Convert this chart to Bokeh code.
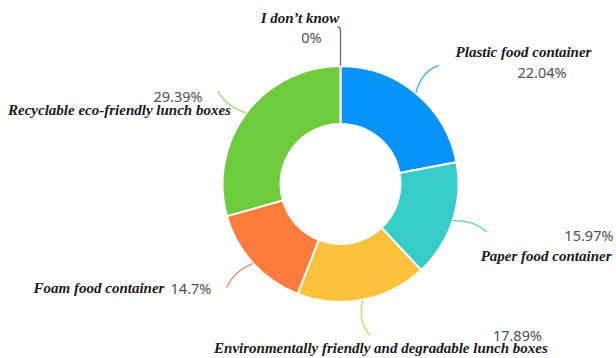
import math
from bokeh.plotting import figure
from bokeh.models import Range1d, ColumnDataSource
from bokeh.core.properties import value
from bokeh.embed import file_html
from bokeh.resources import INLINE

# ---- data ----
categories = ["Plastic food container", "Paper food container",
              "Environmentally friendly and degradable lunch boxes",
              "Foam food container", "Recyclable eco-friendly lunch boxes",
              "I don\u2019t know"]
percents = [22.04, 15.97, 17.89, 14.7, 29.39, 0.0]
value_labels = ["22.04%", "15.97%", "17.89%", "14.7%", "29.39%", "0%"]

# ---- styles / layout ----
slice_colors = ["#0893FB", "#36CCC8", "#FDC13B", "#FE7B3E", "#6DCB3C", "#888888"]
leader_colors = ["#4AA6EA", "#5ED2CE", "#F3C85E", "#EE8E63", "#A3DA86", "#6E6E6E"]
W, H = 616, 358
CX, CY = 340, 174.5          # centre (data units == pixels)
R_OUT, R_IN = 118, 60
R_END = 154
# label offsets from leader end (screen px: dx right, dy down)
name_dx = [84.7, 124.6, 11.2, -62.1, -98.2, -40.5]
name_dy = [-13, 23.7, 13.3, 0.9, 18.5, -12.5]
name_align = ["center", "right", "center", "right", "center", "center"]
val_dx = [103.2, 126.6, 147.7, -35.6, -39.7, -29]
val_dy = [7, 2.7, 0.3, 0.9, 4.5, 6.5]
val_align = ["center", "right", "center", "center", "center", "center"]
bend = [4, 3, -4, -3, 3, 0]

p = figure(width=W, height=H, output_backend="svg", toolbar_location=None,
           x_range=Range1d(0, W), y_range=Range1d(0, H), min_border=0)
p.axis.visible = False
p.grid.visible = False
p.outline_line_color = None
p.background_fill_color = "white"

total = sum(percents)
starts, ends, mids = [], [], []
cum = 0.0
for v in percents:
    a0 = math.pi / 2 - 2 * math.pi * (cum + v) / total
    a1 = math.pi / 2 - 2 * math.pi * cum / total
    starts.append(a0)
    ends.append(a1)
    mids.append((a0 + a1) / 2)
    cum += v

idx = [i for i, v in enumerate(percents) if v > 0]
src = ColumnDataSource(dict(
    start=[starts[i] for i in idx], end=[ends[i] for i in idx],
    color=[slice_colors[i] for i in idx]))
p.annular_wedge(x=CX, y=CY, inner_radius=R_IN, outer_radius=R_OUT,
                start_angle="start", end_angle="end", fill_color="color",
                line_color="white", line_width=2, source=src)

# leader lines
x0s, y0s, x1s, y1s, cxs, cys = [], [], [], [], [], []
ex, ey = [], []
for i, m in enumerate(mids):
    sx, sy = CX + R_OUT * math.cos(m), CY + R_OUT * math.sin(m)
    tx, ty = CX + R_END * math.cos(m), CY + R_END * math.sin(m)
    mb = m + math.radians(bend[i])
    kx, ky = CX + (R_OUT + 20) * math.cos(mb), CY + (R_OUT + 20) * math.sin(mb)
    x0s.append(sx); y0s.append(sy); x1s.append(tx); y1s.append(ty)
    cxs.append(kx); cys.append(ky)
    ex.append(tx); ey.append(ty)
p.quadratic(x0=x0s, y0=y0s, x1=x1s, y1=y1s, cx=cxs, cy=cys,
            line_color=leader_colors, line_width=1.3)

# small hook on the "I don't know" leader
k = len(mids) - 1
p.quadratic(x0=[ex[k]], y0=[ey[k]], x1=[ex[k] - 3], y1=[ey[k] + 3],
            cx=[ex[k]], cy=[ey[k] + 3], line_color=leader_colors[k], line_width=1.3)

# labels
for i in range(len(categories)):
    p.text(x=[ex[i] + name_dx[i]], y=[ey[i] - name_dy[i]], text=[categories[i]],
           text_font=value("Liberation Serif"), text_font_style="bold italic",
           text_font_size="15px", text_color="#1a1a1a",
           text_align=name_align[i], text_baseline="middle")
    p.text(x=[ex[i] + val_dx[i]], y=[ey[i] - val_dy[i]], text=[value_labels[i]],
           text_font=value("Noto Sans"), text_font_size="14.5px",
           text_color="#505050", text_align=val_align[i], text_baseline="middle")

open("out.html", "w").write(file_html(p, INLINE))
